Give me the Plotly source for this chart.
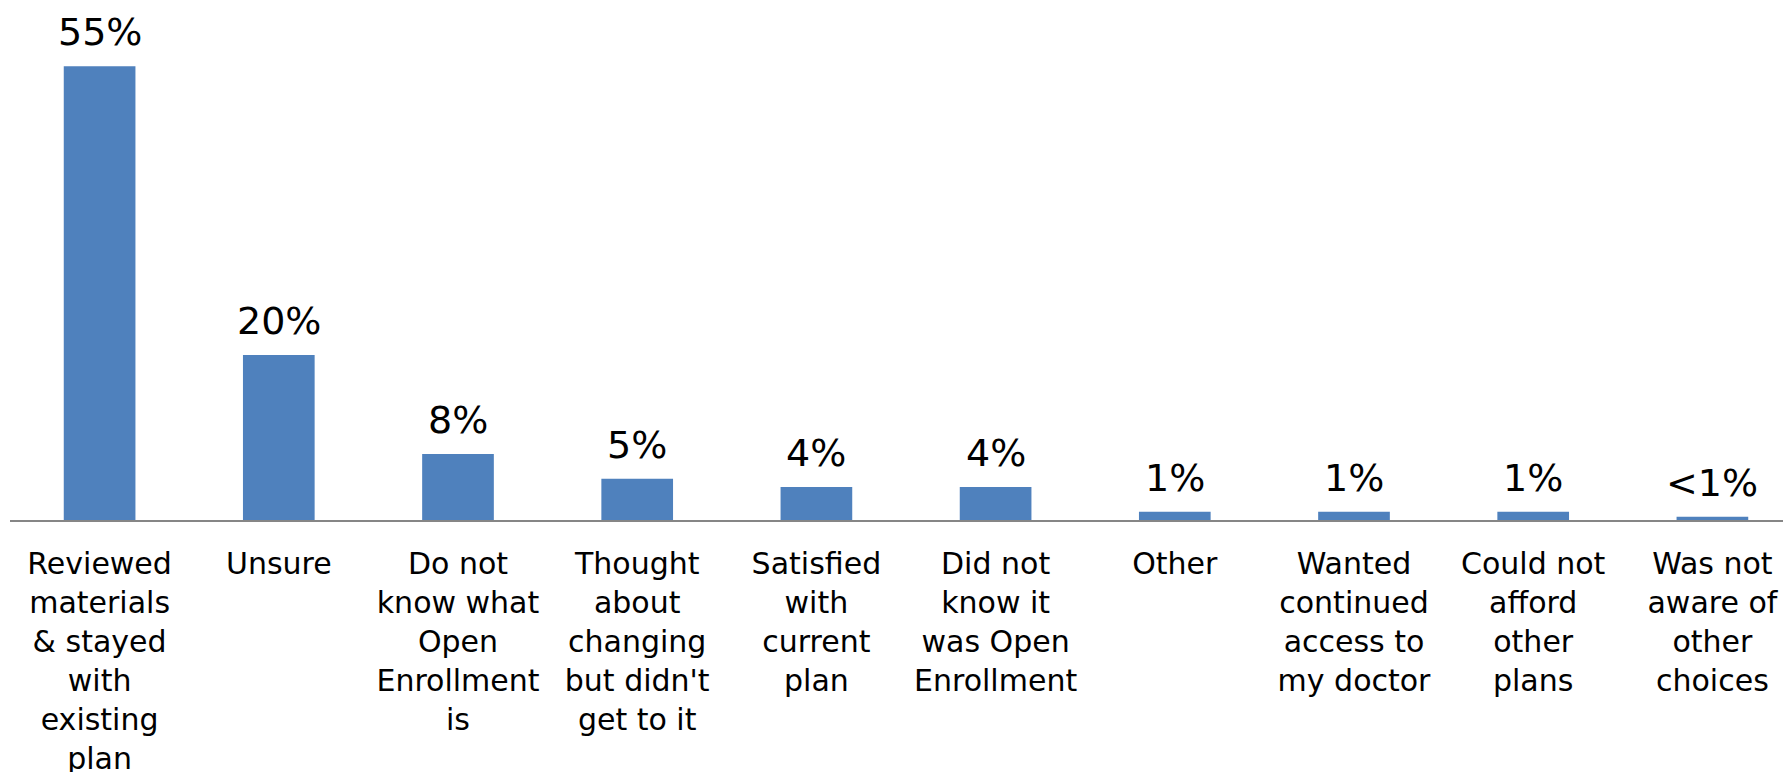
import plotly.graph_objects as go

categories = [
    "Reviewed<br>materials<br>& stayed<br>with<br>existing<br>plan",
    "Unsure",
    "Do not<br>know what<br>Open<br>Enrollment<br>is",
    "Thought<br>about<br>changing<br>but didn't<br>get to it",
    "Satisfied<br>with<br>current<br>plan",
    "Did not<br>know it<br>was Open<br>Enrollment",
    "Other",
    "Wanted<br>continued<br>access to<br>my doctor",
    "Could not<br>afford<br>other<br>plans",
    "Was not<br>aware of<br>other<br>choices",
]
values = [55, 20, 8, 5, 4, 4, 1, 1, 1, 0.4]
value_labels = ["55%", "20%", "8%", "5%", "4%", "4%", "1%", "1%", "1%", "<1%"]

W, H = 1783, 772
M_L, M_R, M_T, M_B = 10, 0, 20, 252
CAT_PX = 179.2           # horizontal space per category
PX_PER_PCT = 8.25        # vertical scale

plot_w = W - M_L - M_R
plot_h = H - M_T - M_B
x_idx = list(range(len(categories)))

fig = go.Figure(
    go.Bar(
        x=x_idx,
        y=values,
        marker=dict(color="#4F81BD", line=dict(width=0)),
        width=0.4,
        hoverinfo="skip",
    )
)

for i, (v, lab) in enumerate(zip(values, value_labels)):
    fig.add_annotation(
        x=i, y=v, text=lab, showarrow=False,
        xanchor="center", yanchor="bottom", yshift=10,
        font=dict(family="DejaVu Sans", size=38, color="#000000"),
    )

fig.update_layout(
    width=W, height=H,
    margin=dict(l=M_L, r=M_R, t=M_T, b=M_B, pad=0),
    paper_bgcolor="white", plot_bgcolor="white",
    showlegend=False,
    font=dict(family="DejaVu Sans", size=30, color="#000000"),
)
fig.update_xaxes(
    range=[-0.5, -0.5 + plot_w / CAT_PX],
    tickmode="array", tickvals=x_idx, ticktext=categories,
    showline=True, linecolor="#868686", linewidth=2,
    showgrid=False, zeroline=False, ticks="",
    tickfont=dict(family="DejaVu Sans", size=30, color="#000000"),
    tickangle=0, automargin=False, ticklabelstandoff=16,
)
fig.update_yaxes(
    range=[0, plot_h / PX_PER_PCT],
    visible=False, showgrid=False, zeroline=False,
)

fig.write_html("out.html")
